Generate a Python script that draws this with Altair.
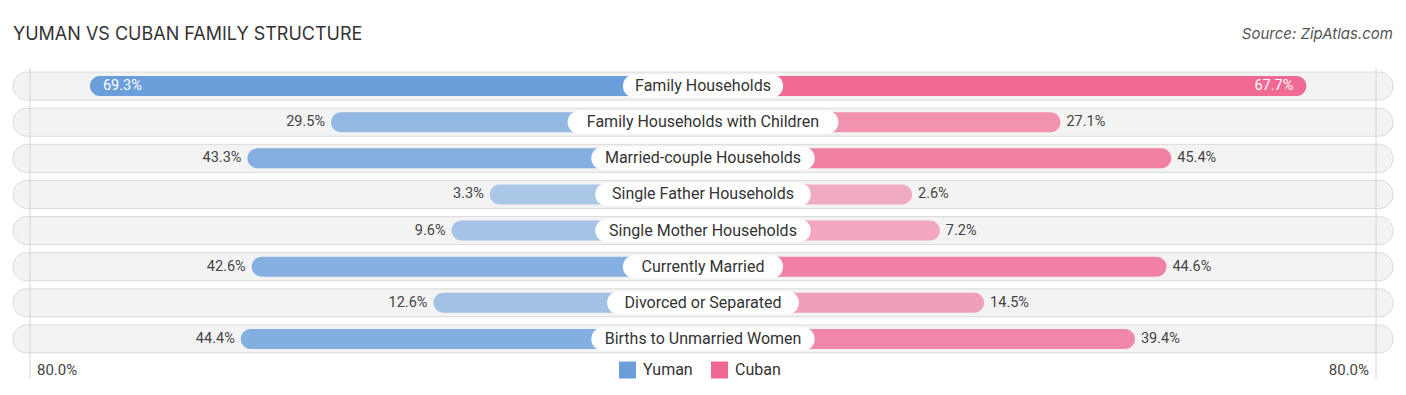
import altair as alt
import pandas as pd

# ---------------- data ----------------
CATEGORIES = [
    "Family Households",
    "Family Households with Children",
    "Married-couple Households",
    "Single Father Households",
    "Single Mother Households",
    "Currently Married",
    "Divorced or Separated",
    "Births to Unmarried Women",
]
YUMAN = [69.3, 29.5, 43.3, 3.3, 9.6, 42.6, 12.6, 44.4]
CUBAN = [67.7, 27.1, 45.4, 2.6, 7.2, 44.6, 14.5, 39.4]
SERIES = ["Yuman", "Cuban"]
AXIS_LABELS = ["80.0%", "80.0%"]
TITLE = "YUMAN VS CUBAN FAMILY STRUCTURE"
SOURCE = "Source: ZipAtlas.com"

# ---------------- style / layout constants ----------------
COLORS = ["#6a9fdc", "#f06892"]
OFFSET = 31.9      # bar start offset (hidden under centre label), in % units
HALF = 113.9       # half-width of the background track, in % units
GRID = 111.1       # faint vertical guide lines
PX = 6.06          # pixels per % unit
W, H = 1380, 289

rows = []
for c, y, cu in zip(CATEGORIES, YUMAN, CUBAN):
    rows.append({"cat": c, "series": "Yuman", "value": y})
    rows.append({"cat": c, "series": "Cuban", "value": cu})
df = pd.DataFrame(rows)
cat_df = pd.DataFrame({"cat": CATEGORIES})
grid_df = pd.DataFrame({"g": [-GRID, GRID], "lbl": AXIS_LABELS})

xscale = alt.Scale(domain=[-HALF, HALF], nice=False, zero=False)
Y = alt.Y("cat:N", sort=CATEGORIES,
          scale=alt.Scale(paddingInner=0, paddingOuter=0), axis=None)

track = alt.Chart(cat_df).transform_calculate(
    lo=str(-HALF), hi=str(HALF)
).mark_bar(size=28, cornerRadius=14, color="#f3f3f3",
           stroke="#dadada", strokeWidth=1).encode(
    x=alt.X("lo:Q", scale=xscale, axis=None), x2="hi:Q", y=Y
)

rules = alt.Chart(grid_df).mark_rule(color="#d4d4d4", strokeWidth=1).encode(
    x=alt.X("g:Q", scale=xscale, axis=None),
    y=alt.value(0), y2=alt.value(311)
)

base = alt.Chart(df).transform_calculate(
    sgn="datum.series == 'Yuman' ? -1 : 1",
    zero="0",
    lbl="format(datum.value, '.1f') + '%'",
).transform_calculate(
    xe="datum.sgn * (datum.value + %f)" % OFFSET
)

bars = base.mark_bar(size=20, cornerRadius=10).encode(
    x=alt.X("xe:Q", scale=xscale, axis=None),
    x2="zero:Q",
    y=Y,
    color=alt.Color(
        "series:N",
        scale=alt.Scale(domain=SERIES, range=COLORS),
        legend=alt.Legend(
            title=None, orient="none", legendX=606, legendY=293.5,
            direction="horizontal", symbolType="square", symbolSize=289,
            symbolStrokeWidth=0, symbolOpacity=1, labelFontSize=16,
            labelFont="Roboto", labelColor="#333333", labelOffset=7,
            columnPadding=18, padding=0,
        ),
    ),
    opacity=alt.Opacity("value:Q", scale=alt.Scale(domain=[0, 70], range=[0.5, 1.0]),
                        legend=None),
)

boxes = alt.Chart(cat_df).transform_calculate(
    hw="(length(datum.cat) * 3.95 + 13) / %f" % PX
).transform_calculate(
    lo="-datum.hw", hi="datum.hw"
).mark_bar(size=23, cornerRadius=11.5, color="white").encode(
    x=alt.X("lo:Q", scale=xscale, axis=None), x2="hi:Q", y=Y
)

cat_text = alt.Chart(cat_df).transform_calculate(zero="0").mark_text(
    font="Roboto", fontSize=16, color="#333333"
).encode(x=alt.X("zero:Q", scale=xscale, axis=None), y=Y, text="cat:N")

TH = 60
val_common = dict(font="Roboto", fontSize=14.5)
y_out = base.transform_filter(f"datum.series == 'Yuman' && datum.value <= {TH}").mark_text(
    align="right", dx=-6, color="#444444", **val_common
).encode(x=alt.X("xe:Q", scale=xscale, axis=None), y=Y, text="lbl:N")
y_in = base.transform_filter(f"datum.series == 'Yuman' && datum.value > {TH}").mark_text(
    align="left", dx=13, color="white", **val_common
).encode(x=alt.X("xe:Q", scale=xscale, axis=None), y=Y, text="lbl:N")
c_out = base.transform_filter(f"datum.series == 'Cuban' && datum.value <= {TH}").mark_text(
    align="left", dx=6, color="#444444", **val_common
).encode(x=alt.X("xe:Q", scale=xscale, axis=None), y=Y, text="lbl:N")
c_in = base.transform_filter(f"datum.series == 'Cuban' && datum.value > {TH}").mark_text(
    align="right", dx=-13, color="white", **val_common
).encode(x=alt.X("xe:Q", scale=xscale, axis=None), y=Y, text="lbl:N")

ax_left = alt.Chart(grid_df).transform_filter("datum.g < 0").mark_text(
    align="left", dx=7, font="Roboto", fontSize=15, color="#444444"
).encode(x=alt.X("g:Q", scale=xscale, axis=None), y=alt.value(302), text="lbl:N")
ax_right = alt.Chart(grid_df).transform_filter("datum.g > 0").mark_text(
    align="right", dx=-7, font="Roboto", fontSize=15, color="#444444"
).encode(x=alt.X("g:Q", scale=xscale, axis=None), y=alt.value(302), text="lbl:N")

title = alt.Chart(pd.DataFrame({"t": [TITLE]})).mark_text(
    align="left", baseline="alphabetic", font="Inter", fontSize=18, color="#333333"
).encode(x=alt.value(0), y=alt.value(-28), text="t:N")
source = alt.Chart(pd.DataFrame({"t": [SOURCE]})).mark_text(
    align="right", baseline="alphabetic", font="Inter", fontSize=15,
    fontStyle="italic", color="#555555"
).encode(x=alt.value(W), y=alt.value(-29.5), text="t:N")

chart = alt.layer(
    track, rules, bars, boxes, cat_text, y_out, y_in, c_out, c_in,
    ax_left, ax_right, title, source
).properties(
    width=W, height=H,
    autosize=alt.AutoSizeParams(type="none"),
    padding={"left": 5, "top": 60, "right": 5, "bottom": 30},
).configure_view(stroke=None)

chart.save("out.html", embed_options={"renderer": "svg", "actions": False})
